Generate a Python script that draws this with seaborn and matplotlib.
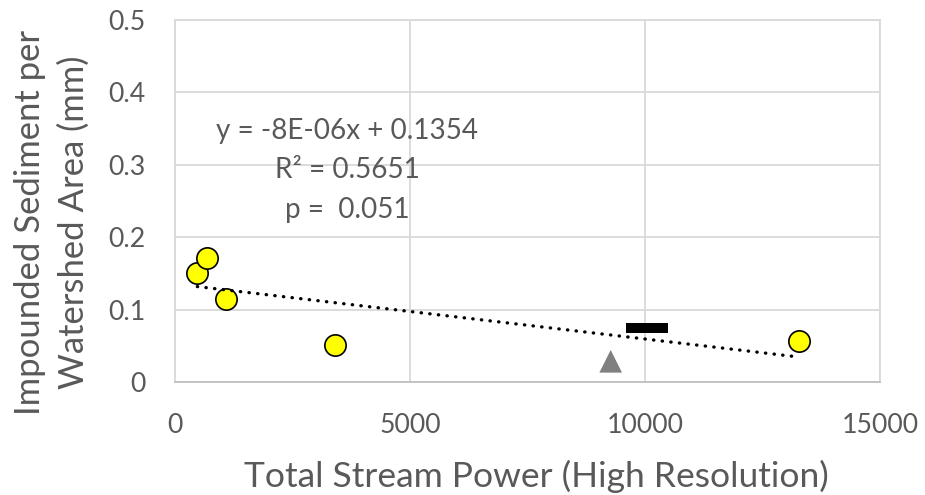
import numpy as np
import pandas as pd
import seaborn as sns
import matplotlib.pyplot as plt

sns.set_theme(style="white")
plt.rcParams['font.family'] = ['Lato', 'DejaVu Sans']

# Observations (yellow circles) used for the regression
stream_power = [475, 674, 1085, 3404, 13277]
sediment = [0.151, 0.171, 0.115, 0.0507, 0.0566]

# Additional sites shown with distinct markers
triangle_power = [9270]
triangle_sediment = [0.0286]
dash_power = [10043]
dash_sediment = [0.0742]

# Linear trend statistics
slope = -7.6e-6
intercept = 0.1354
r_squared = 0.5651
p_value = 0.051

x_ticks = [0, 5000, 10000, 15000]
x_tick_labels = ["0", "5000", "10000", "15000"]
y_ticks = [0, 0.1, 0.2, 0.3, 0.4, 0.5]
y_tick_labels = ["0", "0.1", "0.2", "0.3", "0.4", "0.5"]

x_title = "Total Stream Power (High Resolution)"
y_title_lines = ["Impounded Sediment per", "Watershed Area (mm)"]

TEXT = "#595959"
GRID = "#d9d9d9"
W, H = 925, 495


def fx(px):
    return px / W


def fy(px):
    return 1 - px / H


fig = plt.figure(figsize=(W / 100, H / 100), dpi=100)
fig.patch.set_facecolor("white")
ax = fig.add_axes([fx(175), fy(382), 705 / W, 362 / H])
ax.set_facecolor("white")

df = pd.DataFrame({"power": stream_power, "sediment": sediment})
sns.scatterplot(data=df, x="power", y="sediment", ax=ax, s=235,
                color="#ffff00", edgecolor="black", linewidth=1.2, zorder=3)

sns.scatterplot(x=triangle_power, y=triangle_sediment, ax=ax, marker="^",
                s=266, color="#808080", edgecolor="none", zorder=3)

dash_marker = [(-1, -0.24), (1, -0.24), (1, 0.24), (-1, 0.24), (-1, -0.24)]
sns.scatterplot(x=dash_power, y=dash_sediment, ax=ax, marker=dash_marker,
                s=912, color="black", edgecolor="none", zorder=3)

# Dotted trend line across the range of the fitted observations
trend_x = np.array([min(stream_power), max(stream_power)])
trend_y = slope * trend_x + intercept
ax.plot(trend_x, trend_y, color="black", lw=2.4, linestyle=(0, (0.1, 2.5)),
        dash_capstyle="round", zorder=4)

ax.set_xlim(0, 15000)
ax.set_ylim(0, 0.5)
ax.set_xticks(x_ticks)
ax.set_xticklabels(x_tick_labels)
ax.set_yticks(y_ticks)
ax.set_yticklabels(y_tick_labels)
ax.tick_params(axis="both", length=0, labelsize=19, labelcolor=TEXT)
ax.tick_params(axis="x", pad=22)
ax.tick_params(axis="y", pad=21)

ax.grid(True, color=GRID, linewidth=1.3)
ax.set_axisbelow(True)
for side in ["top", "right", "left"]:
    ax.spines[side].set_color(GRID)
    ax.spines[side].set_linewidth(1.3)
ax.spines["bottom"].set_color("#bfbfbf")
ax.spines["bottom"].set_linewidth(1.3)

ax.set_xlabel(x_title, fontsize=24, color=TEXT)
ax.xaxis.set_label_coords((536 - 175) / 705, (382 - 460) / 362)
ax.xaxis.label.set_verticalalignment("top")
ax.set_ylabel("")

# Two-line vertical axis title
y_line1 = fig.text(fx(30), fy(222), y_title_lines[0], rotation=90,
                   ha="center", va="center", fontsize=24, color=TEXT)
y_line2 = fig.text(fx(73.5), fy(222), y_title_lines[1], rotation=90,
                   ha="center", va="center", fontsize=24, color=TEXT)

eq = f"y = {slope:.0E}x + {intercept:.4f}"
stats = [
    fig.text(fx(347.5), fy(139), eq, ha="center", va="baseline",
             fontsize=19, color=TEXT),
    fig.text(fx(347.5), fy(178.5), f"R² = {r_squared:.4f}", ha="center",
             va="baseline", fontsize=19, color=TEXT),
    fig.text(fx(347.5), fy(218), f"p =  {p_value:.3f}", ha="center",
             va="baseline", fontsize=19, color=TEXT),
]

# Size the text so each string spans its intended pixel extent
fig.canvas.draw()
renderer = fig.canvas.get_renderer()


def scale_to(artist, target, vertical=False):
    bb = artist.get_window_extent(renderer)
    size = bb.height if vertical else bb.width
    return artist.get_fontsize() * target / size


for _ in range(2):
    eq_size = scale_to(stats[0], 261)
    for t in stats:
        t.set_fontsize(eq_size)

    xl_size = scale_to(ax.xaxis.label, 584)
    ax.xaxis.label.set_fontsize(xl_size)

    yl_size = scale_to(y_line1, 385, vertical=True)
    y_line1.set_fontsize(yl_size)
    y_line2.set_fontsize(yl_size)

    tick_size = scale_to(ax.get_xticklabels()[-1], 77)
    ax.tick_params(axis="both", labelsize=tick_size)
    fig.canvas.draw()

fig.savefig("out.png", dpi=100, facecolor="white")
